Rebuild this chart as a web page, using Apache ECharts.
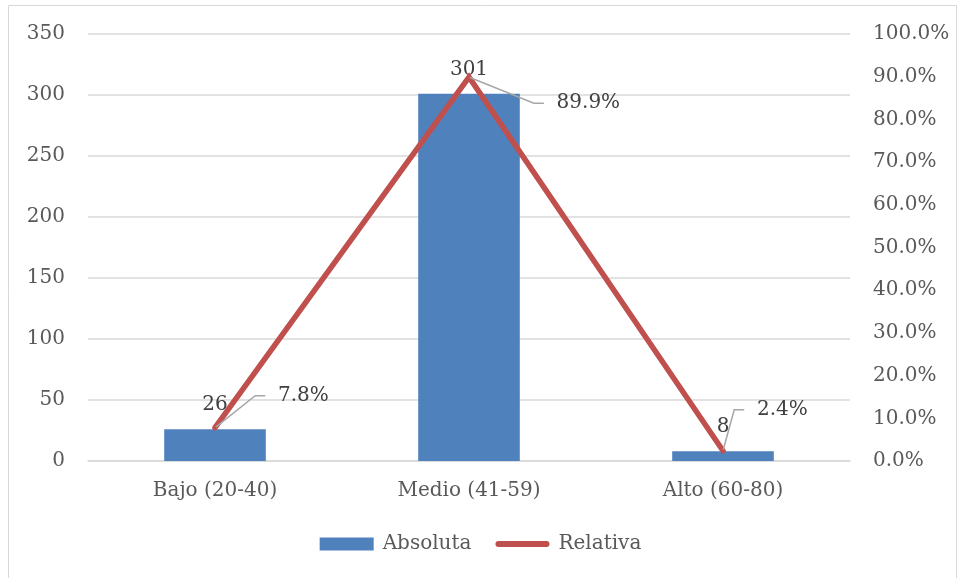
<!DOCTYPE html>
<html>
<head>
<meta charset="utf-8">
<script src="https://cdn.jsdelivr.net/npm/echarts@6/dist/echarts.min.js"></script>
<style>html,body{margin:0;padding:0;background:#fff}#c{width:961px;height:578px}</style>
</head>
<body>
<div id="c"></div>
<script>
var categories = ['Bajo (20-40)', 'Medio (41-59)', 'Alto (60-80)'];
var absoluta = [26, 301, 8];
var relativa = [7.8, 89.9, 2.4];
var leftTicks = {min: 0, max: 350, interval: 50};
var rightTicks = {min: 0, max: 100, interval: 10};

var FONT = 'DejaVu Serif';
var FS = 20;
var labelOffsets = [[82, -32], [113, 26], [53, -41]];

var chart = echarts.init(document.getElementById('c'));
chart.setOption({
  animation: false,
  textStyle: {fontFamily: FONT},
  graphic: [{
    type: 'rect', shape: {x: 8.5, y: 5.5, width: 948, height: 600},
    style: {fill: 'none', stroke: '#D9D9D9', lineWidth: 1}, silent: true, z: -1
  }],
  grid: {left: 88, right: 111, top: 34, bottom: 117},
  legend: {
    bottom: 19, left: 'center',
    itemWidth: 54, itemHeight: 13, itemGap: 24,
    symbolKeepAspect: true,
    textStyle: {fontFamily: FONT, fontSize: FS, color: '#595959', padding: [0, 0, 0, 4]},
    data: [
      {name: 'Absoluta', icon: 'rect'},
      {name: 'Relativa', icon: 'path://M3,0 H51 A3,3 0 0 1 51,6 H3 A3,3 0 0 1 3,0 Z'}
    ]
  },
  xAxis: {
    type: 'category', data: categories,
    axisLine: {lineStyle: {color: '#D9D9D9', width: 1.5}},
    axisTick: {show: false},
    axisLabel: {fontFamily: FONT, fontSize: FS, color: '#595959', margin: 20}
  },
  yAxis: [{
    type: 'value', min: leftTicks.min, max: leftTicks.max, interval: leftTicks.interval,
    axisLine: {show: false}, axisTick: {show: false},
    splitLine: {lineStyle: {color: '#D9D9D9', width: 1.5}},
    axisLabel: {fontFamily: FONT, fontSize: FS, color: '#595959', margin: 23}
  }, {
    type: 'value', min: rightTicks.min, max: rightTicks.max, interval: rightTicks.interval,
    axisLine: {show: false}, axisTick: {show: false}, splitLine: {show: false},
    axisLabel: {fontFamily: FONT, fontSize: FS, color: '#595959', margin: 23,
      formatter: function (v) { return v.toFixed(1) + '%'; }}
  }],
  series: [{
    name: 'Absoluta', type: 'bar', data: absoluta, barWidth: '40%',
    itemStyle: {color: '#4F81BD'},
    label: {show: true, position: 'top', distance: 14, fontFamily: FONT, fontSize: FS, color: '#404040'}
  }, {
    name: 'Relativa', type: 'line', yAxisIndex: 1, data: relativa,
    symbol: 'circle', symbolSize: 2, showSymbol: true,
    lineStyle: {color: '#C0504D', width: 5.5, cap: 'round', join: 'miter'},
    itemStyle: {color: '#C0504D'},
    label: {show: true, position: 'inside', fontFamily: FONT, fontSize: FS, color: '#404040',
      formatter: function (p) { return '\u00a0\u00a0' + p.value.toFixed(1) + '%'; }},
    labelLine: {show: true, length2: 10, lineStyle: {color: '#A6A6A6', width: 1.5}},
    labelLayout: function (p) {
      var o = labelOffsets[p.dataIndex];
      return {dx: o[0], dy: o[1]};
    },
    z: 3
  }]
});
</script>
</body>
</html>
